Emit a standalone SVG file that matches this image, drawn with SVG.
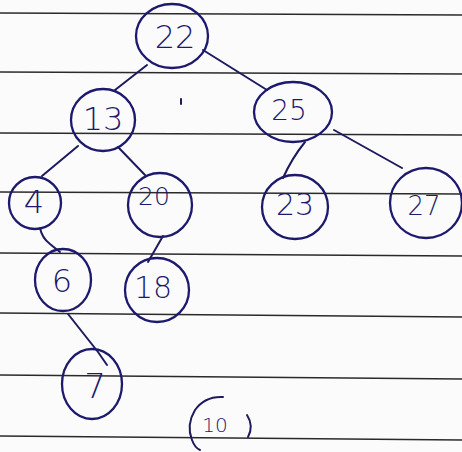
<svg xmlns="http://www.w3.org/2000/svg" width="462" height="452" viewBox="0 0 462 452">
<style>
.rule{stroke:#2a2a2a;stroke-width:1.6;fill:none}
.edge{stroke:#1d1b5e;stroke-width:2;fill:none;stroke-linecap:round}
.node ellipse{fill:none;stroke:#1d1a6e;stroke-width:2.3}
.node text{font-family:"DejaVu Sans","Liberation Sans",sans-serif;font-weight:300;fill:#1d1a6e;text-anchor:middle}
</style>
<rect width="462" height="452" fill="#fbfbfb"/>
<g id="paper-rules">
<line class="rule" x1="0" y1="13" x2="462" y2="15"/>
<line class="rule" x1="0" y1="72" x2="462" y2="74"/>
<line class="rule" x1="0" y1="133" x2="462" y2="135"/>
<line class="rule" x1="0" y1="192" x2="462" y2="194"/>
<line class="rule" x1="0" y1="253" x2="462" y2="256"/>
<line class="rule" x1="0" y1="313" x2="462" y2="317"/>
<line class="rule" x1="0" y1="375" x2="462" y2="379"/>
<line class="rule" x1="0" y1="436" x2="462" y2="440"/>
</g>
<g id="connectors">
<line class="edge" x1="147" y1="65" x2="115" y2="90"/>
<line class="edge" x1="203" y1="50" x2="267" y2="90"/>
<line class="edge" x1="78" y1="146" x2="42" y2="176"/>
<line class="edge" x1="118" y1="147" x2="145" y2="175"/>
<path class="edge" d="M305 142 Q292 158 283 178"/>
<line class="edge" x1="334" y1="130" x2="402" y2="168"/>
<path class="edge" d="M40 228 Q42 238 50 244 Q56 249 60 252"/>
<line class="edge" x1="163" y1="236" x2="148" y2="262"/>
<path class="edge" d="M68 314 L98 352 L107 365"/>
<line class="edge" x1="181" y1="99" x2="181" y2="104"/>
</g>
<g id="n22" class="node"><ellipse cx="172" cy="36" rx="36" ry="32"/><text x="175" y="48" font-size="32">22</text></g>
<g id="n13" class="node"><ellipse cx="103" cy="120" rx="32" ry="31"/><text x="103" y="130" font-size="32">13</text></g>
<g id="n25" class="node"><ellipse cx="293" cy="112" rx="39" ry="30"/><text x="289" y="120" font-size="28">25</text></g>
<g id="n4" class="node"><ellipse cx="35" cy="203" rx="26" ry="26"/><text x="34" y="213" font-size="32">4</text></g>
<g id="n20" class="node"><ellipse cx="160" cy="205" rx="32" ry="32"/><text x="154" y="205" font-size="25">20</text></g>
<g id="n23" class="node"><ellipse cx="295" cy="207" rx="33" ry="32"/><text x="295" y="215" font-size="30">23</text></g>
<g id="n27" class="node"><ellipse cx="426" cy="203" rx="36" ry="35"/><text x="424" y="215" font-size="26">27</text></g>
<g id="n6" class="node"><ellipse cx="63" cy="280" rx="28" ry="31"/><text x="62" y="292" font-size="32">6</text></g>
<g id="n18" class="node"><ellipse cx="157" cy="290" rx="32" ry="32"/><text x="153" y="298" font-size="30">18</text></g>
<g id="n7" class="node"><ellipse cx="92" cy="384" rx="30" ry="35"/><text x="95" y="398" font-size="34">7</text></g>
<g id="note10" class="node">
<path class="edge" d="M223 397 Q205 396 195 410 Q186 425 192 440 Q195 448 200 450"/>
<path class="edge" d="M247 415 Q254 426 248 437"/>
<text x="215" y="432" font-size="20">10</text>
</g>
</svg>
